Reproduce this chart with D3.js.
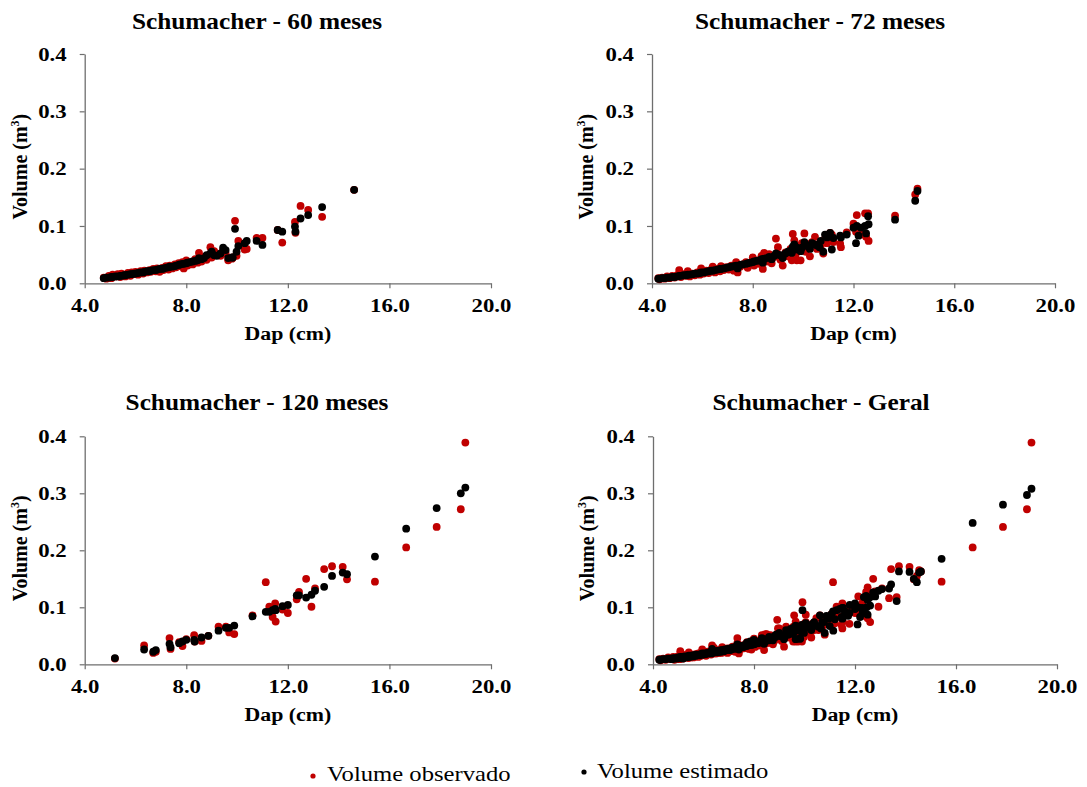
<!DOCTYPE html>
<html>
<head>
<meta charset="utf-8">
<script src="https://cdn.jsdelivr.net/npm/d3@7"></script>
<style>
body { margin: 0; background: #fff; }
svg { display: block; }
svg text { font-family: "Liberation Serif", "DejaVu Serif", serif; }
</style>
</head>
<body>
<div id="chart-area"></div>
<script>
// ---- data: one entry per tree (dap, observed volume, estimated volume) ----
var dap60 = [4.75,4.85,4.95,5.05,5.1,5.2,5.3,5.4,5.45,5.55,5.6,5.7,5.8,5.85,5.95,6.0,6.1,6.2,6.3,6.35,6.45,6.55,6.6,6.7,6.8,6.85,6.95,7.05,7.1,7.2,7.3,7.35,7.45,7.55,7.6,7.7,7.75,7.85,7.9,8.0,8.05,8.15,8.25,8.35,8.45,8.5,8.6,8.7,8.8,8.95,9.0,9.1,9.2,9.35,9.45,9.55,9.65,9.8,9.83,9.92,9.98,10.05,10.3,10.38,10.77,11.0,11.6,11.78,12.28,12.3,12.5,12.8,13.35,14.61];
var obs60 = [0.010,0.008,0.013,0.009,0.015,0.012,0.016,0.011,0.017,0.014,0.012,0.018,0.013,0.019,0.016,0.020,0.015,0.021,0.017,0.022,0.019,0.023,0.020,0.025,0.021,0.026,0.020,0.027,0.023,0.030,0.024,0.031,0.026,0.033,0.028,0.035,0.030,0.037,0.026,0.040,0.031,0.036,0.033,0.042,0.036,0.053,0.038,0.046,0.041,0.063,0.045,0.056,0.050,0.048,0.058,0.052,0.040,0.043,0.045,0.109,0.048,0.074,0.059,0.060,0.079,0.079,0.093,0.071,0.107,0.088,0.135,0.128,0.116,0.163];
var est60 = [0.009,0.010,0.010,0.011,0.011,0.012,0.012,0.013,0.013,0.014,0.014,0.015,0.016,0.016,0.017,0.017,0.018,0.019,0.019,0.020,0.021,0.021,0.022,0.023,0.023,0.024,0.025,0.025,0.026,0.027,0.028,0.029,0.029,0.030,0.031,0.032,0.033,0.034,0.034,0.035,0.036,0.037,0.038,0.039,0.040,0.044,0.042,0.044,0.049,0.052,0.055,0.049,0.048,0.052,0.062,0.058,0.044,0.045,0.045,0.095,0.055,0.065,0.070,0.074,0.074,0.067,0.093,0.090,0.099,0.090,0.113,0.119,0.133,0.163];

var dap72 = [4.25,4.3,4.4,4.5,4.6,4.7,4.8,4.9,5.0,5.08,5.15,5.25,5.35,5.42,5.5,5.6,5.7,5.8,5.9,5.95,6.05,6.15,6.25,6.35,6.41,6.5,6.6,6.7,6.74,6.85,6.95,7.05,7.15,7.25,7.34,7.4,7.5,7.6,7.73,7.8,7.9,8.0,8.05,8.15,8.25,8.35,8.4,8.45,8.55,8.65,8.75,8.85,8.92,9.0,9.1,9.19,9.3,9.4,9.5,9.55,9.59,9.65,9.7,9.75,9.85,9.9,9.95,10.05,10.1,10.2,10.27,10.35,10.47,10.55,10.65,10.7,10.8,10.87,10.95,11.07,11.14,11.2,11.47,11.5,11.73,12.0,12.1,12.13,12.2,12.3,12.46,12.5,12.58,12.6,13.65,14.45,14.54];
var obs72 = [0.009,0.007,0.010,0.008,0.012,0.009,0.013,0.010,0.014,0.023,0.011,0.016,0.013,0.021,0.012,0.017,0.014,0.019,0.015,0.026,0.017,0.022,0.018,0.024,0.029,0.019,0.025,0.021,0.030,0.023,0.028,0.024,0.031,0.022,0.037,0.019,0.029,0.033,0.037,0.027,0.036,0.045,0.031,0.040,0.034,0.048,0.025,0.053,0.038,0.051,0.035,0.046,0.078,0.063,0.041,0.031,0.054,0.047,0.060,0.040,0.086,0.075,0.050,0.040,0.065,0.040,0.070,0.087,0.055,0.068,0.047,0.072,0.081,0.060,0.068,0.065,0.052,0.078,0.070,0.088,0.085,0.072,0.069,0.063,0.089,0.104,0.090,0.119,0.095,0.085,0.122,0.081,0.122,0.074,0.118,0.155,0.165];
var est72 = [0.008,0.008,0.009,0.009,0.010,0.010,0.011,0.011,0.012,0.013,0.013,0.014,0.014,0.015,0.015,0.016,0.017,0.017,0.018,0.019,0.019,0.020,0.021,0.022,0.022,0.023,0.024,0.025,0.025,0.026,0.027,0.028,0.029,0.030,0.031,0.026,0.032,0.033,0.034,0.035,0.036,0.037,0.038,0.039,0.040,0.042,0.036,0.043,0.044,0.046,0.042,0.048,0.052,0.050,0.049,0.044,0.052,0.055,0.057,0.053,0.064,0.068,0.059,0.062,0.060,0.056,0.062,0.072,0.067,0.064,0.060,0.070,0.068,0.066,0.063,0.074,0.055,0.085,0.080,0.088,0.059,0.079,0.083,0.080,0.085,0.097,0.070,0.100,0.083,0.097,0.100,0.087,0.117,0.103,0.111,0.144,0.161];

var dap120 = [5.19,6.34,6.7,6.8,7.34,7.38,7.72,7.85,8.0,8.31,8.33,8.6,8.87,9.27,9.56,9.69,9.89,10.61,11.13,11.27,11.4,11.5,11.52,11.79,12.0,12.35,12.44,12.72,12.93,13.07,13.43,13.74,14.16,14.33,15.43,16.66,17.86,18.81,18.99];
var obs120 = [0.010,0.033,0.020,0.022,0.046,0.027,0.039,0.032,0.044,0.051,0.040,0.041,0.050,0.066,0.066,0.056,0.053,0.086,0.144,0.101,0.083,0.107,0.075,0.096,0.090,0.114,0.127,0.150,0.101,0.133,0.167,0.172,0.171,0.149,0.145,0.205,0.241,0.272,0.389];
var est120 = [0.011,0.026,0.022,0.025,0.036,0.030,0.037,0.040,0.043,0.043,0.040,0.047,0.050,0.059,0.064,0.064,0.068,0.084,0.092,0.092,0.095,0.097,0.095,0.102,0.104,0.121,0.121,0.117,0.122,0.129,0.136,0.155,0.161,0.158,0.189,0.238,0.274,0.300,0.310];
// general model estimates for the 120-month trees (used in the "Geral" panel)
var estGeral120 = [0.010,0.027,0.022,0.024,0.035,0.032,0.038,0.040,0.043,0.046,0.044,0.048,0.052,0.060,0.064,0.066,0.069,0.086,0.093,0.095,0.097,0.099,0.099,0.104,0.107,0.118,0.120,0.126,0.129,0.132,0.140,0.163,0.162,0.150,0.185,0.248,0.280,0.297,0.308];

var xTicks = [4, 8, 12, 16, 20];
var yTicks = [0, 0.1, 0.2, 0.3, 0.4];
var titles = ['Schumacher - 60 meses', 'Schumacher - 72 meses', 'Schumacher - 120 meses', 'Schumacher - Geral'];
var legendLabels = ['Volume observado', 'Volume estimado'];

// ---- layout ----
var W = 1087, H = 787;
var sx = 1.2;   // the original picture is stretched horizontally
var FONT = '"Liberation Serif", "DejaVu Serif", serif';
var red = '#c00000', black = '#000000', axisColor = '#6e6e6e';

var panels = [
	{ title: titles[0], dap: dap60, obs: obs60, est: est60, left: 84.7, right: 491, top: 54, bottom: 283.3, titleX: 257, titleY: 29, ylabX: 21 },
	{ title: titles[1], dap: dap72, obs: obs72, est: est72, left: 652, right: 1055, top: 54, bottom: 283.3, titleX: 820, titleY: 29, ylabX: 587 },
	{ title: titles[2], dap: dap120, obs: obs120, est: est120, left: 84.7, right: 491, top: 436.3, bottom: 664.3, titleX: 257, titleY: 410, ylabX: 21 },
	{ title: titles[3], dap: dap60.concat(dap72, dap120), obs: obs60.concat(obs72, obs120), est: est60.concat(est72, estGeral120),
		left: 653, right: 1057, top: 436.3, bottom: 664.3, titleX: 821, titleY: 410, ylabX: 588 }
];

function $stretch(x, y, k) {
	return 'translate(' + x + ',' + y + ') scale(' + k + ',1)';
}

var svg = d3.select('#chart-area')
	.append('svg')
	.attr('width', W)
	.attr('height', H);

panels.forEach(function(p) {
	var x = d3.scaleLinear().domain([4, 20]).range([p.left, p.right]);
	var y = d3.scaleLinear().domain([0, 0.4]).range([p.bottom, p.top]);

	var g = svg.append('g');

	g.append('text')
		.attr('transform', $stretch(p.titleX, p.titleY, 1.1))
		.attr('text-anchor', 'middle')
		.attr('font-family', FONT)
		.attr('font-size', '23px')
		.attr('font-weight', 'bold')
		.text(p.title);

	var xAxis = d3.axisBottom(x)
		.tickValues(xTicks)
		.tickFormat(d3.format('.1f'))
		.tickSize(5)
		.tickSizeOuter(0)
		.tickPadding(10);

	var yAxis = d3.axisLeft(y)
		.tickValues(yTicks)
		.tickFormat(d3.format('.1f'))
		.tickSize(5)
		.tickSizeOuter(0);

	var gx = g.append('g')
		.attr('transform', 'translate(0,' + p.bottom + ')')
		.call(xAxis);
	var gy = g.append('g')
		.attr('transform', 'translate(' + p.left + ',0)')
		.call(yAxis);

	[gx, gy].forEach(function(ax) {
		ax.attr('font-family', FONT);
		ax.select('.domain').attr('stroke', axisColor).attr('stroke-width', 1.3);
		ax.selectAll('.tick line').attr('stroke', axisColor).attr('stroke-width', 1.2);
		ax.selectAll('.tick text')
			.attr('fill', '#000')
			.attr('font-family', FONT)
			.attr('font-size', '19px')
			.attr('font-weight', 'bold')
			.attr('transform', 'scale(' + sx + ',1)');
	});
	gy.selectAll('.tick text').attr('x', -18 / sx);

	g.append('text')
		.attr('transform', $stretch((p.left + p.right) / 2, p.bottom + 57, 1.15))
		.attr('text-anchor', 'middle')
		.attr('font-family', FONT)
		.attr('font-size', '19px')
		.attr('font-weight', 'bold')
		.text('Dap (cm)');

	var yl = g.append('text')
		.attr('transform', 'translate(' + (p.ylabX + 6) + ',' + ((p.top + p.bottom) / 2 - 2) + ') rotate(-90)')
		.attr('text-anchor', 'middle')
		.attr('font-family', FONT)
		.attr('font-size', '20px')
		.attr('font-weight', 'bold');
	yl.append('tspan').text('Volume (m');
	yl.append('tspan').attr('font-size', '12px').attr('dy', -8).text('3');
	yl.append('tspan').attr('dy', 8).text(')');

	g.append('g').selectAll('circle.obs')
		.data(p.dap)
		.enter().append('circle')
		.attr('class', 'obs')
		.attr('cx', function(d) { return x(d); })
		.attr('cy', function(d, i) { return y(p.obs[i]); })
		.attr('r', 3.9)
		.attr('fill', red);

	g.append('g').selectAll('circle.est')
		.data(p.dap)
		.enter().append('circle')
		.attr('class', 'est')
		.attr('cx', function(d) { return x(d); })
		.attr('cy', function(d, i) { return y(p.est[i]); })
		.attr('r', 3.9)
		.attr('fill', black);
});

// legend
var legend = svg.append('g');
var legendItems = [
	{ label: legendLabels[0], color: red, dotX: 313, dotY: 776, textX: 327, textY: 781 },
	{ label: legendLabels[1], color: black, dotX: 584, dotY: 772, textX: 597, textY: 778 }
];
legendItems.forEach(function(d) {
	legend.append('circle')
		.attr('cx', d.dotX)
		.attr('cy', d.dotY)
		.attr('r', 2.6)
		.attr('fill', d.color);
	legend.append('text')
		.attr('transform', $stretch(d.textX, d.textY, 1.12))
		.attr('font-family', FONT)
		.attr('font-size', '22px')
		.text(d.label);
});
</script>
</body>
</html>
